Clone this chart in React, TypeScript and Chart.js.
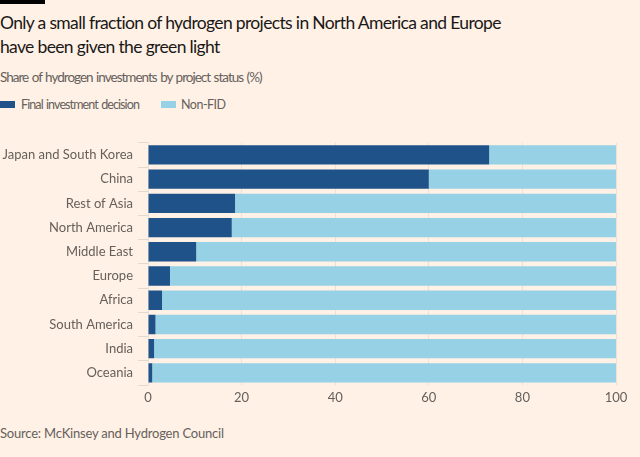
import React, { useEffect, useRef } from "react";
import { Chart, registerables } from "chart.js";

Chart.register(...registerables);

const categories = [
  "Japan and South Korea",
  "China",
  "Rest of Asia",
  "North America",
  "Middle East",
  "Europe",
  "Africa",
  "South America",
  "India",
  "Oceania",
];
const fidValues = [72.9, 60.0, 18.6, 17.9, 10.3, 4.7, 3.0, 1.6, 1.3, 0.9];
const nonFidValues = fidValues.map((v) => 100 - v);
const xTicks = [0, 20, 40, 60, 80, 100];

const BG = "#FFF1E5";
const DARK = "#1f5288";
const LIGHT = "#96d1e6";
const GREY = "#66605c";
const FONT = "Lato, 'Open Sans', sans-serif";

export default function App() {
  const ref = useRef<HTMLCanvasElement | null>(null);

  useEffect(() => {
    document.body.style.margin = "0";
    document.body.style.background = BG;
    const ctx = ref.current!;
    const chart = new Chart(ctx, {
      type: "bar",
      data: {
        labels: categories,
        datasets: [
          { label: "Final investment decision", data: fidValues, backgroundColor: DARK, borderWidth: 0, categoryPercentage: 0.8, barPercentage: 1 },
          { label: "Non-FID", data: nonFidValues, backgroundColor: LIGHT, borderWidth: 0, categoryPercentage: 0.8, barPercentage: 1 },
        ],
      },
      options: {
        indexAxis: "y",
        animation: false,
        responsive: false,
        maintainAspectRatio: false,
        layout: { padding: { top: 9, right: 24, bottom: 0, left: 0 } },
        plugins: { legend: { display: false }, tooltip: { enabled: false } },
        scales: {
          x: {
            stacked: true,
            min: 0,
            max: 100,
            afterBuildTicks: (s: any) => {
              s.ticks = xTicks.map((v) => ({ value: v }));
            },
            afterFit: (s: any) => {
              s.height = 25;
            },
            ticks: { color: GREY, font: { family: FONT, size: 13 }, padding: 5 },
            grid: { color: "rgba(0,0,0,0.07)", drawTicks: false },
            border: { display: false },
          },
          y: {
            stacked: true,
            afterFit: (s: any) => {
              s.width = 148;
            },
            ticks: { color: GREY, font: { family: FONT, size: 13 }, padding: 5 },
            grid: { drawOnChartArea: false, drawTicks: true, tickLength: 10, color: "rgba(0,0,0,0.1)" },
            border: { display: false },
          },
        },
      },
    });
    return () => chart.destroy();
  }, []);

  return (
    <div style={{ position: "relative", width: 640, height: 457, background: BG, fontFamily: FONT, overflow: "hidden" }}>
      <div style={{ position: "absolute", left: 0, top: 0, width: 45, height: 4, background: "#000" }} />
      <div style={{ position: "absolute", left: 0, top: 11, fontSize: 17.5, letterSpacing: "-0.65px", lineHeight: "24px", color: "#1a1817", width: 640 }}>
        Only a small fraction of hydrogen projects in North America and Europe
        <br />
        have been given the green light
      </div>
      <div style={{ position: "absolute", left: 0, top: 68, fontSize: 13.5, letterSpacing: "-1px", wordSpacing: "1px", lineHeight: "18px", color: GREY }}>
        Share of hydrogen investments by project status (%)
      </div>
      <div style={{ position: "absolute", left: 0, top: 101, width: 15, height: 7, background: DARK }} />
      <div style={{ position: "absolute", left: 21, top: 96, fontSize: 12.5, letterSpacing: "-0.9px", wordSpacing: "1px", lineHeight: "17px", color: GREY }}>
        Final investment decision
      </div>
      <div style={{ position: "absolute", left: 161, top: 101, width: 15, height: 7, background: LIGHT }} />
      <div style={{ position: "absolute", left: 181, top: 96, fontSize: 12.5, letterSpacing: "-0.5px", lineHeight: "17px", color: GREY }}>
        Non-FID
      </div>
      <canvas ref={ref} width={640} height={280} style={{ position: "absolute", left: 0, top: 130, width: 640, height: 280 }} />
      <div style={{ position: "absolute", left: 0, top: 425, fontSize: 13, letterSpacing: "-0.2px", lineHeight: "17px", color: GREY }}>
        Source: McKinsey and Hydrogen Council
      </div>
    </div>
  );
}
